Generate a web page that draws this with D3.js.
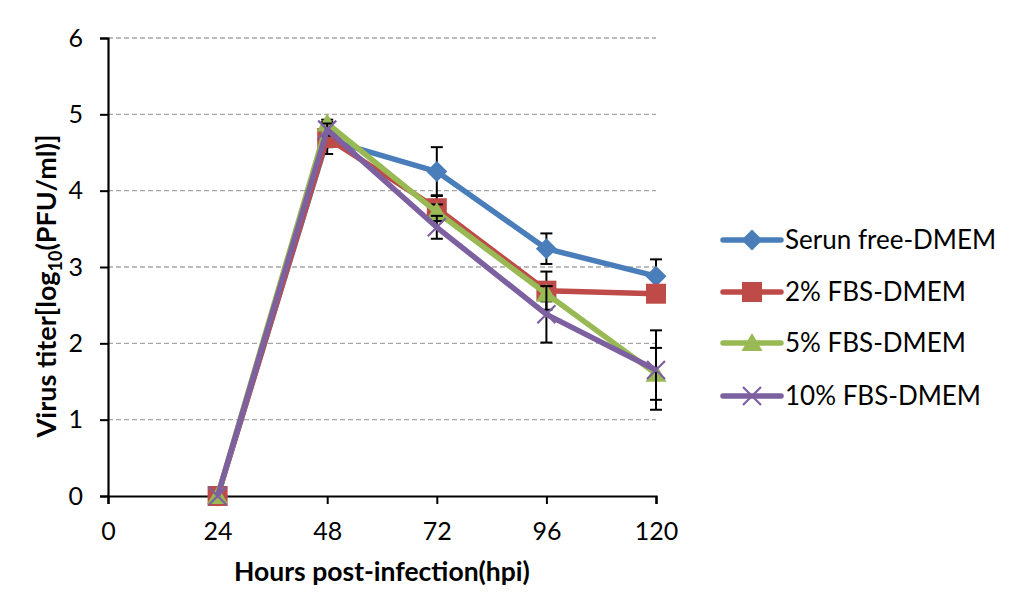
<!DOCTYPE html>
<html><head><meta charset="utf-8">
<script src="https://cdn.jsdelivr.net/npm/d3@7"></script>
<style>body{margin:0;background:#fff}svg{display:block}text{font-family:Lato,"Open Sans",sans-serif}</style>
</head><body><svg id="c" width="1024" height="616"></svg>
<script>
const hours = [24, 48, 72, 96, 120];
const xTicks = [0, 24, 48, 72, 96, 120];
const yTicks = [0, 1, 2, 3, 4, 5, 6];
const seriesNames = ["Serun free-DMEM", "2% FBS-DMEM", "5% FBS-DMEM", "10% FBS-DMEM"];
const serumFree = [0, 4.67, 4.25, 3.24, 2.88];
const fbs2 = [0, 4.69, 3.77, 2.69, 2.65];
const fbs5 = [0, 4.88, 3.72, 2.65, 1.60];
const fbs10 = [0, 4.80, 3.52, 2.38, 1.65];
const errSerumFree = [0, 0.10, 0.32, 0.20, 0.22];
const errFbs2 = [0, 0.21, 0.17, 0.25, 0.10];
const errFbs5 = [0, 0.05, 0.10, 0.10, 0.34];
const errFbs10 = [0, 0.08, 0.15, 0.37, 0.52];
const colors = ["#4a7ebb", "#be4b48", "#98b954", "#7d60a0"];
const markers = ["diamond", "square", "triangle", "cross"];

const values = [serumFree, fbs2, fbs5, fbs10];
const errs = [errSerumFree, errFbs2, errFbs5, errFbs10];

const svg = d3.select("#c");
const x = d3.scaleLinear().domain([0, 120]).range([108, 656]);
const y = d3.scaleLinear().domain([0, 6]).range([496, 38]);

// grid
svg.append("g").selectAll("line").data(yTicks.filter(d => d > 0)).join("line")
  .attr("x1", x(0)).attr("x2", x(120)).attr("y1", d => y(d)).attr("y2", d => y(d))
  .attr("stroke", "#a6a6a6").attr("stroke-width", 1.3).attr("stroke-dasharray", "5,3");

// y axis
const ya = svg.append("g").attr("transform", `translate(${x(0)},0)`)
  .call(d3.axisLeft(y).tickValues(yTicks).tickSize(8).tickPadding(17).tickFormat(d3.format("d")));
ya.select(".domain").attr("stroke", "#000").attr("stroke-width", 2.2);
ya.selectAll(".tick line").attr("stroke", "#000").attr("stroke-width", 2);
ya.selectAll("text").attr("font-size", 25).attr("fill", "#000");

// x axis
const xa = svg.append("g").attr("transform", `translate(0,${y(0)})`)
  .call(d3.axisBottom(x).tickValues(xTicks).tickSize(8).tickPadding(18).tickFormat(d3.format("d")));
xa.select(".domain").attr("stroke", "#000").attr("stroke-width", 2.2);
xa.selectAll(".tick line").attr("stroke", "#000").attr("stroke-width", 2);
xa.selectAll("text").attr("font-size", 25).attr("fill", "#000");

function markerPath(type) {
  if (type === "diamond") return "M0,-10.5L10.5,0L0,10.5L-10.5,0Z";
  if (type === "square") return "M-10,-10H10V10H-10Z";
  if (type === "triangle") return "M0,-10L10.5,8H-10.5Z";
  return "M-9,-9L9,9M9,-9L-9,9";
}
function drawMarker(g, type, color, cx, cy) {
  const p = g.append("path").attr("d", markerPath(type)).attr("transform", `translate(${cx},${cy})`);
  if (type === "cross") p.attr("fill", "none").attr("stroke", color).attr("stroke-width", 2.2);
  else p.attr("fill", color).attr("stroke", "none");
}

const line = d3.line().x((d, i) => x(hours[i])).y(d => y(d));

values.forEach((vals, s) => {
  const g = svg.append("g");
  vals.forEach((v, i) => {
    const e = errs[s][i];
    if (!e) return;
    const cx = x(hours[i]);
    g.append("line").attr("x1", cx).attr("x2", cx).attr("y1", y(v - e)).attr("y2", y(v + e))
      .attr("stroke", "#000").attr("stroke-width", 2);
    [v - e, v + e].forEach(t => g.append("line").attr("x1", cx - 6).attr("x2", cx + 6)
      .attr("y1", y(t)).attr("y2", y(t)).attr("stroke", "#000").attr("stroke-width", 2));
  });
  g.append("path").attr("d", line(vals)).attr("fill", "none").attr("stroke", colors[s])
    .attr("stroke-width", 5.5).attr("stroke-linejoin", "round");
  vals.forEach((v, i) => drawMarker(g, markers[s], colors[s], x(hours[i]), y(v)));
});

// legend
const legY = [240, 292, 343, 396];
seriesNames.forEach((n, s) => {
  const g = svg.append("g");
  g.append("line").attr("x1", 723).attr("x2", 781).attr("y1", legY[s]).attr("y2", legY[s])
    .attr("stroke", colors[s]).attr("stroke-width", 5.5).attr("stroke-linecap", "round");
  drawMarker(g, markers[s], colors[s], 752, legY[s]);
  g.append("text").attr("x", 785).attr("y", legY[s] + 9).attr("font-size", 26).attr("fill", "#000").text(n);
});

// axis titles
svg.append("text").attr("x", 382).attr("y", 581).attr("text-anchor", "middle")
  .attr("font-size", 26.5).attr("font-weight", "bold").text("Hours post-infection(hpi)");
const yt = svg.append("text").attr("transform", "translate(56,286) rotate(-90)")
  .attr("text-anchor", "middle").attr("font-size", 27).attr("font-weight", "bold");
yt.append("tspan").text("Virus titer[log");
yt.append("tspan").attr("font-size", 18).attr("dy", 6).text("10");
yt.append("tspan").attr("dy", -6).text("(PFU/ml)]");
</script></body></html>
